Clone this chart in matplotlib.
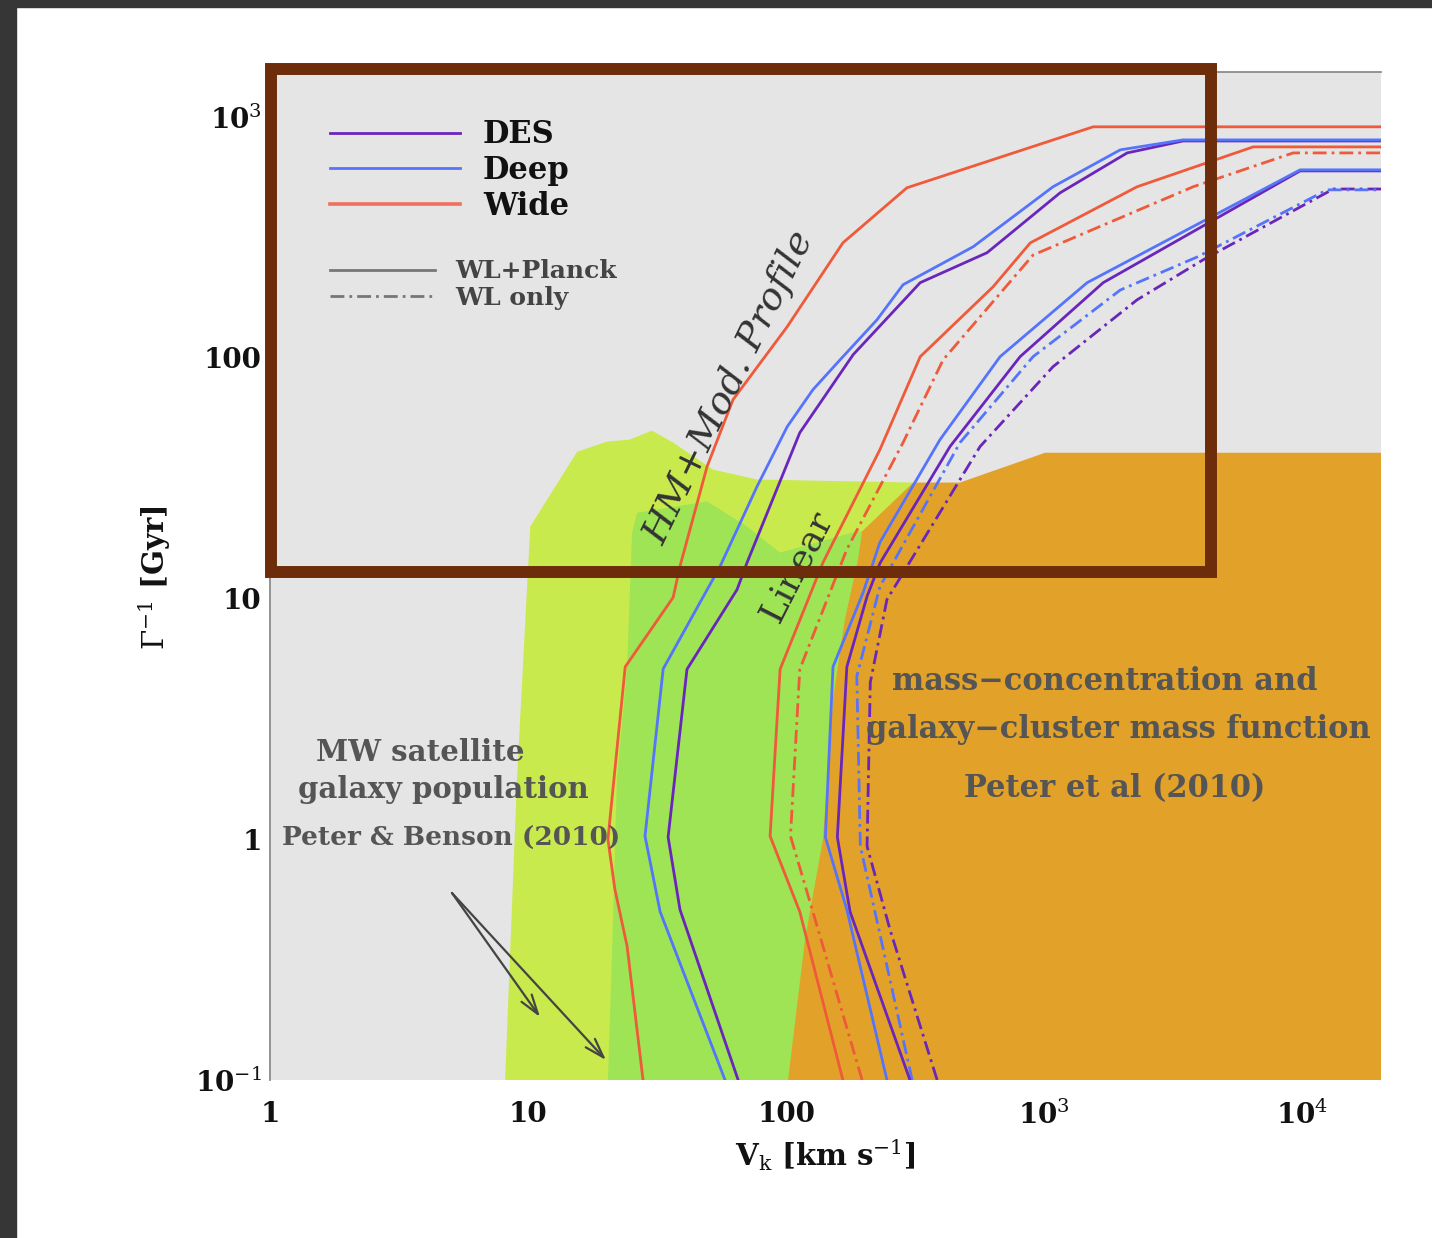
import matplotlib
matplotlib.use("Agg")
import matplotlib.pyplot as plt
from matplotlib.lines import Line2D
from matplotlib.patches import Rectangle

plt.rcParams["font.family"] = ["DejaVu Serif"]
plt.rcParams["mathtext.fontset"] = "dejavuserif"

# ---------------- excluded / constrained regions ----------------
# (V_k in km/s, Gamma^-1 in Gyr), polygon vertices
mw_v = [8.15, 9.06, 10.2, 15.5, 20.2, 24.8, 30.2, 36.5, 52.1, 77.2, 311, 311]
mw_t = [0.1, 1.77, 19.9, 40.7, 44.8, 45.7, 49.8, 44.4, 34.3, 31.2, 30.3, 0.1]

lin_region_v = [20.4, 21.2, 22.1, 24.2, 25.3, 26.5, 49.4, 70.6, 94.8, 188, 200, 200]
lin_region_t = [0.1, 0.36, 1.77, 5.2, 18.8, 22.7, 25.3, 19.9, 15.5, 19.0, 19.0, 0.1]

cluster_v = [101.8, 118.5, 139, 152, 169, 190, 197, 311, 472, 1009, 3e4, 3e4]
cluster_t = [0.1, 0.385, 1.0, 3.81, 8.18, 14.5, 19.0, 30.3, 30.3, 40.3, 40.3, 0.1]

# ---------------- forecast curves: HM + modified profile ----------------
hm_wide_v = [27.9, 24.2, 21.7, 20.4, 23.8, 36.5, 38.8, 49.4, 62.3, 101, 166, 294, 1549, 3e4]
hm_wide_t = [0.1, 0.36, 0.62, 1.0, 5.2, 10.1, 13.6, 35.3, 67.0, 134.5, 300, 508, 910, 910]

hm_deep_v = [58.0, 32.5, 28.4, 33.4, 55.5, 77.2, 101, 127, 162, 225, 284, 531, 1083, 1972, 3456, 3e4]
hm_deep_t = [0.1, 0.50, 1.03, 5.1, 13.6, 29.2, 51.7, 73.6, 98.1, 143.7, 201, 289, 513, 730, 803, 803]

hm_des_v = [65.2, 38.8, 34.9, 41.3, 64.6, 70.6, 113, 182, 331, 601, 1153, 2098, 3458, 3e4]
hm_des_t = [0.1, 0.51, 1.02, 5.08, 10.9, 14.1, 48.8, 103, 205, 273, 484, 709, 795, 795]

# ---------------- forecast curves: linear ----------------
lin_wide_v = [166, 113, 86.7, 94.8, 139, 231, 331, 634, 884, 2293, 6457, 3e4]
lin_wide_t = [0.1, 0.50, 1.03, 5.08, 14.1, 41.5, 101, 197, 300, 513, 751, 751]

lin_wide_wl_v = [197, 127, 104, 113, 172, 284, 406, 906, 3782, 9230, 3e4]
lin_wide_wl_t = [0.1, 0.50, 1.03, 5.08, 16.0, 44.4, 98, 267, 513, 709, 709]

lin_deep_v = [246, 172, 142, 152, 199, 231, 395, 675, 1468, 9820, 3e4]
lin_deep_t = [0.1, 0.51, 1.02, 5.2, 10.6, 17.1, 45.7, 101, 205, 603, 603]

lin_des_v = [302, 177, 158, 172, 206, 231, 432, 807, 1694, 9820, 3e4]
lin_des_t = [0.1, 0.50, 1.02, 5.2, 10.2, 14.0, 42.8, 101, 205, 597, 597]

lin_deep_wl_v = [308, 221, 194, 188, 231, 472, 906, 1972, 3917, 12500, 3e4]
lin_deep_wl_t = [0.1, 0.5, 0.935, 4.75, 11.2, 44.4, 101, 191, 262, 498, 498]

lin_des_wl_v = [385, 253, 206, 212, 246, 565, 1083, 2293, 4130, 13200, 3e4]
lin_des_wl_t = [0.1, 0.42, 0.935, 4.48, 9.9, 42.8, 91.8, 174, 255, 502, 502]

x_ticks = [1, 10, 100, 1e3, 1e4]
x_ticklabels = ["1", "10", "100", "10$^3$", "10$^4$"]
y_ticks = [0.1, 1, 10, 100, 1e3]
y_ticklabels = ["10$^{-1}$", "1", "10", "100", "10$^3$"]

# ---------------- styling ----------------
C_DES = "#6a26bc"
C_DEEP = "#5674fb"
C_WIDE = "#ef5a3a"
C_MW = "#c9ea4c"
C_LIN = "#9ee455"
C_CL = "#e2a22a"
BG = "#e5e5e5"
TXT = "#555555"
DASHDOT = (0, (5, 1.8, 1, 1.8))
LW = 2.0

fig = plt.figure(figsize=(14.32, 12.38), dpi=100)
fig.patch.set_facecolor("white")
ax = fig.add_axes([0.18855, 0.12763, 0.7758, 0.8142])
ax.set_facecolor(BG)
ax.set_xscale("log")
ax.set_yscale("log")
ax.set_xlim(1, 2.02e4)
ax.set_ylim(0.1, 1537)

ax.fill(mw_v, mw_t, color=C_MW, lw=0, zorder=1)
ax.fill(lin_region_v, lin_region_t, color=C_LIN, lw=0, zorder=1.1)
ax.fill(cluster_v, cluster_t, color=C_CL, lw=0, zorder=1.2)

curves = [
    (lin_des_wl_v, lin_des_wl_t, C_DES, DASHDOT),
    (lin_deep_wl_v, lin_deep_wl_t, C_DEEP, DASHDOT),
    (lin_wide_wl_v, lin_wide_wl_t, C_WIDE, DASHDOT),
    (lin_des_v, lin_des_t, C_DES, "-"),
    (lin_deep_v, lin_deep_t, C_DEEP, "-"),
    (lin_wide_v, lin_wide_t, C_WIDE, "-"),
    (hm_des_v, hm_des_t, C_DES, "-"),
    (hm_deep_v, hm_deep_t, C_DEEP, "-"),
    (hm_wide_v, hm_wide_t, C_WIDE, "-"),
]
for v, t, c, ls in curves:
    ax.plot(v, t, color=c, ls=ls, lw=LW, zorder=3)

# axes frame: only left and top edges
for side in ("right", "bottom"):
    ax.spines[side].set_visible(False)
for side in ("left", "top"):
    ax.spines[side].set_color("#8c8c8c")
    ax.spines[side].set_linewidth(1.3)
    ax.spines[side].set_zorder(4)

ax.set_xticks(x_ticks)
ax.set_xticklabels(x_ticklabels, fontweight="bold")
ax.set_yticks(y_ticks)
ax.set_yticklabels(y_ticklabels, fontweight="bold")
ax.minorticks_off()
ax.tick_params(axis="x", length=0, pad=15, labelsize=20, colors="#111111")
ax.tick_params(axis="y", length=0, pad=6, labelsize=20, colors="#111111")

ax.set_xlabel(r"V$_{\rm k}$ [km s$^{-1}$]", fontsize=21, color="#111111",
              fontweight="bold")
ax.xaxis.set_label_coords(0.5, -0.057)
ax.set_ylabel(r"$\Gamma^{-1}$ [Gyr]", fontsize=21, color="#111111",
              fontweight="bold")
ax.yaxis.set_label_coords(-0.087, 0.498)

# legends
survey_handles = [Line2D([], [], color=C_DES, lw=LW),
                  Line2D([], [], color=C_DEEP, lw=LW),
                  Line2D([], [], color="#ee7060", lw=LW + 0.6)]
leg1 = ax.legend(survey_handles, ["DES", "Deep", "Wide"], loc="upper left",
                 bbox_to_anchor=(0.054, 0.953), frameon=False,
                 prop=dict(size=22, weight="bold"),
                 handlelength=4.25, handletextpad=0.75, labelspacing=0.15,
                 borderpad=0, borderaxespad=0)
for txt in leg1.get_texts():
    txt.set_color("#111111")
ax.add_artist(leg1)
data_handles = [Line2D([], [], color="#777777", lw=LW),
                Line2D([], [], color="#777777", lw=LW, ls=DASHDOT)]
leg2 = ax.legend(data_handles, ["WL+Planck", "WL only"], loc="upper left",
                 bbox_to_anchor=(0.054, 0.814), frameon=False,
                 prop=dict(size=18, weight="bold"),
                 handlelength=4.2, handletextpad=0.8, labelspacing=0.1,
                 borderpad=0, borderaxespad=0)
for txt in leg2.get_texts():
    txt.set_color("#444444")

# region annotations
tkw = dict(transform=ax.transAxes, ha="center", va="center", color=TXT,
           fontweight="bold", zorder=5)
ax.text(0.135, 0.325, "MW satellite", fontsize=21, **tkw)
ax.text(0.156, 0.2877, "galaxy population", fontsize=21, **tkw)
ax.text(0.163, 0.240, "Peter & Benson (2010)", fontsize=19, **tkw)
ax.text(0.751, 0.3958, "mass\u2212concentration and", fontsize=22, **tkw)
ax.text(0.764, 0.3482, "galaxy\u2212cluster mass function", fontsize=22, **tkw)
ax.text(0.760, 0.2887, "Peter et al (2010)", fontsize=22, **tkw)

ax.text(0.414, 0.6865, "HM+Mod. Profile", fontsize=27.5, style="italic",
        rotation=64, rotation_mode="anchor", transform=ax.transAxes,
        ha="center", va="center", color="#333333", zorder=5)
ax.text(0.474, 0.510, "Linear", fontsize=26, rotation=63,
        rotation_mode="anchor", transform=ax.transAxes,
        ha="center", va="center", color="#333333", zorder=5)

arrow_kw = dict(arrowstyle="->,head_length=1.4,head_width=0.45",
                color="#444444", lw=1.6, shrinkA=0, shrinkB=0)
ax.annotate("", xy=(0.2430, 0.0625), xytext=(0.1638, 0.1855),
            xycoords="axes fraction", arrowprops=arrow_kw, zorder=5)
ax.annotate("", xy=(0.3024, 0.0198), xytext=(0.1638, 0.1855),
            xycoords="axes fraction", arrowprops=arrow_kw, zorder=5)

# highlighted window
focus_box = Rectangle((0.001, 0.504), 0.846, 0.499, transform=ax.transAxes,
                      fill=False, edgecolor="#6d2c0a", lw=8.6,
                      joinstyle="miter", clip_on=False, zorder=6)
ax.add_patch(focus_box)

# dark window border
fig.patches.append(Rectangle((0, 0), 16 / 1432, 1, transform=fig.transFigure,
                             color="#363636", zorder=0))
fig.patches.append(Rectangle((0, 1 - 7 / 1238), 1, 7 / 1238,
                             transform=fig.transFigure, color="#363636", zorder=0))

fig.savefig("out.png", dpi=100)
